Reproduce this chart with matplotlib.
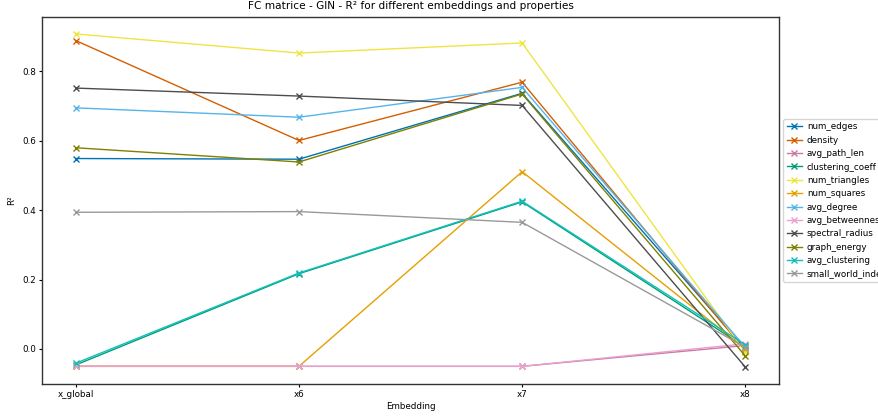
import matplotlib
matplotlib.use("Agg")
import matplotlib.pyplot as plt

plt.rcParams['font.size'] = 6.3

embeddings = ['x_global', 'x6', 'x7', 'x8']

properties = ['num_edges', 'density', 'avg_path_len', 'clustering_coeff',
              'num_triangles', 'num_squares', 'avg_degree', 'avg_betweenness',
              'spectral_radius', 'graph_energy', 'avg_clustering', 'small_world_index']

num_edges = [0.549, 0.547, 0.737, 0.000]
density = [0.889, 0.601, 0.769, -0.005]
avg_path_len = [-0.050, -0.050, -0.050, 0.010]
clustering_coeff = [-0.046, 0.217, 0.424, 0.005]
num_triangles = [0.908, 0.853, 0.882, -0.010]
num_squares = [-0.050, -0.050, 0.511, 0.000]
avg_degree = [0.695, 0.668, 0.754, 0.005]
avg_betweenness = [-0.050, -0.050, -0.050, 0.015]
spectral_radius = [0.752, 0.729, 0.702, -0.052]
graph_energy = [0.580, 0.539, 0.735, -0.020]
avg_clustering = [-0.041, 0.219, 0.426, 0.012]
small_world_index = [0.394, 0.396, 0.365, 0.005]

values = [num_edges, density, avg_path_len, clustering_coeff, num_triangles,
          num_squares, avg_degree, avg_betweenness, spectral_radius,
          graph_energy, avg_clustering, small_world_index]

colors = ['#0072B2', '#D55E00', '#CC79A7', '#009E73', '#F0E442', '#E69F00',
          '#56B4E9', '#E8A0CC', '#4D4D4D', '#808000', '#12BFBF', '#999999']

fig = plt.figure(figsize=(8.79, 4.17), dpi=100)
ax = fig.add_axes([0.0481, 0.0799, 0.8379, 0.8786])

for name, vals, c in zip(properties, values, colors):
    ax.plot(embeddings, vals, marker='x', color=c, label=name,
            linewidth=1.0, markersize=4)

ax.set_title('FC matrice - GIN - R² for different embeddings and properties')
ax.set_xlabel('Embedding', labelpad=2)
ax.set_ylabel('R²')
ax.tick_params(length=2.5, pad=2)
for s in ax.spines.values():
    s.set_linewidth(1.0)
    s.set_color('#333333')
ax.legend(loc='center left', bbox_to_anchor=(1.0, 0.5), handlelength=1.7,
          handletextpad=0.6)

fig.savefig('out.png', dpi=100)
